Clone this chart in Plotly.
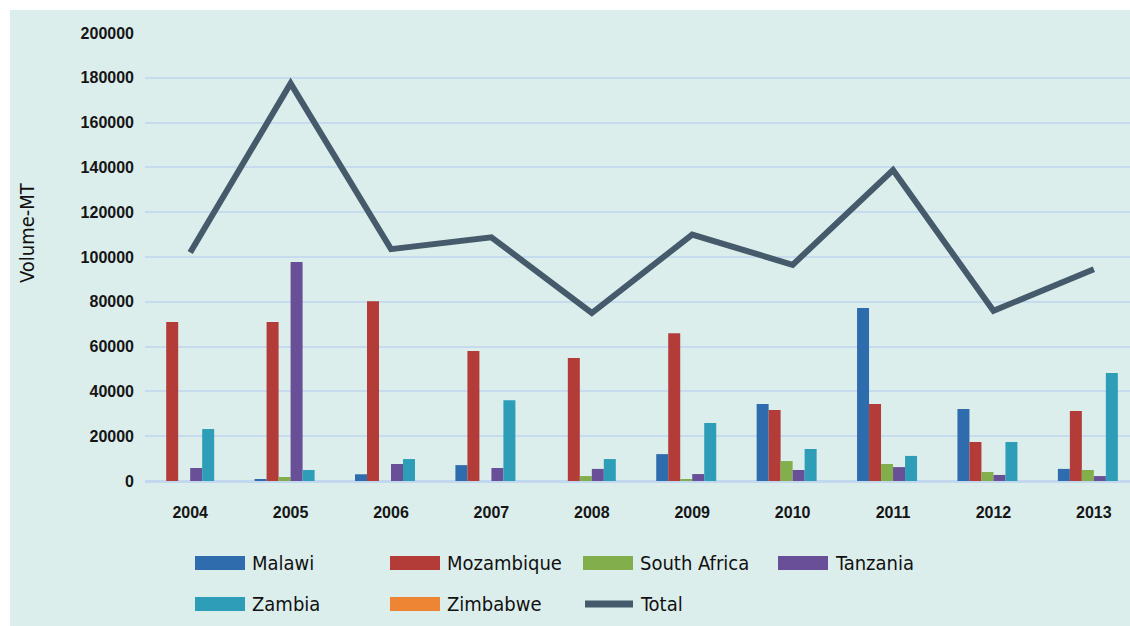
import plotly.graph_objects as go

years = ["2004", "2005", "2006", "2007", "2008", "2009", "2010", "2011", "2012", "2013"]
malawi = [0, 900, 3000, 7100, 0, 12000, 34400, 77200, 32100, 5400]
mozambique = [71000, 71000, 80300, 58000, 54900, 66000, 31700, 34400, 17400, 31200]
south_africa = [0, 1800, 0, 0, 2200, 500, 8900, 7600, 4000, 4900]
tanzania = [5800, 97800, 7600, 5800, 5400, 3100, 4900, 6200, 2700, 2200]
zambia = [23200, 4900, 9800, 36000, 9800, 25900, 14300, 11200, 17400, 48200]
zimbabwe = [0, 0, 0, 0, 0, 0, 0, 0, 0, 0]
total = [102000, 177500, 103500, 108800, 75000, 110000, 96500, 138800, 76000, 94500]
y_ticks = [0, 20000, 40000, 60000, 80000, 100000, 120000, 140000, 160000, 180000, 200000]

series = [
    ("Malawi", malawi, "#2f6cae"),
    ("Mozambique", mozambique, "#b33c39"),
    ("South Africa", south_africa, "#82ae4c"),
    ("Tanzania", tanzania, "#684f98"),
    ("Zambia", zambia, "#2e9db8"),
    ("Zimbabwe", zimbabwe, "#ee8535"),
]
total_color = "#455b6c"

W, H = 1130, 626
L, R, T, B = 145, 0, 33, 145
PW, PH = W - L - R, H - T - B

def px(x):
    return (x - L) / PW

def py(y):
    return (H - B - y) / PH

fig = go.Figure()
for name, vals, col in series:
    fig.add_trace(go.Bar(x=years, y=vals, name=name, marker_color=col,
                         marker_line_width=0, showlegend=False))
fig.add_trace(go.Scatter(x=years, y=total, name="Total", mode="lines",
                         line=dict(color=total_color, width=6), showlegend=False))

bg = "#dceeec"
shapes = [dict(type="rect", xref="paper", yref="paper", x0=px(10), x1=px(W + 5),
               y0=py(H + 5), y1=py(10), fillcolor=bg, line_width=0, layer="below")]
annotations = []

legend_items = [(s[0], s[2], "bar") for s in series] + [("Total", total_color, "line")]
cols_x = [195, 390, 583, 778]
rows_y = [563, 604]
narrow = "DejaVu Sans Condensed, Liberation Sans Narrow, sans-serif"
for i, (name, col, kind) in enumerate(legend_items):
    cx = cols_x[i % 4]
    cy = rows_y[i // 4]
    if kind == "bar":
        shapes.append(dict(type="rect", xref="paper", yref="paper",
                           x0=px(cx), x1=px(cx + 50), y0=py(cy + 7), y1=py(cy - 7),
                           fillcolor=col, line_width=0))
    else:
        shapes.append(dict(type="line", xref="paper", yref="paper",
                           x0=px(cx + 2), x1=px(cx + 50), y0=py(cy), y1=py(cy),
                           line=dict(color=col, width=7)))
    annotations.append(dict(text=name, xref="paper", yref="paper",
                            x=px(cx + 55), y=py(cy), xanchor="left", yanchor="middle",
                            showarrow=False, font=dict(family=narrow, size=20, color="#111111")))

annotations.append(dict(text="Volume-MT", xref="paper", yref="paper",
                        x=px(27), y=py(233), xanchor="center", yanchor="middle",
                        textangle=-90, showarrow=False,
                        font=dict(family=narrow, size=20, color="#111111")))

tickfont = dict(family="Liberation Sans, Arial, sans-serif", size=16, color="#151515",
                weight="bold")

fig.update_layout(
    width=W, height=H, autosize=False,
    margin=dict(l=L, r=R, t=T, b=B, pad=0),
    paper_bgcolor="white", plot_bgcolor="rgba(0,0,0,0)",
    barmode="group", bargap=0.283, bargroupgap=0,
    shapes=shapes, annotations=annotations,
    showlegend=False,
    xaxis=dict(type="category", categoryorder="array", categoryarray=years,
               range=[-0.45, 9.36], showgrid=False, zeroline=False, showline=False,
               ticks="", tickfont=tickfont, ticklabelstandoff=20),
    yaxis=dict(range=[0, 200000], tickvals=y_ticks, tickformat="d",
               showgrid=True, gridcolor="#c7dbef", gridwidth=2,
               zeroline=True, zerolinecolor="#c2d8ee", zerolinewidth=3,
               showline=False, ticks="", tickfont=tickfont, ticklabelstandoff=10),
)

fig.write_html("out.html", config={"displayModeBar": False},
               post_script="document.body.style.margin='0';document.body.style.overflow='hidden';")
